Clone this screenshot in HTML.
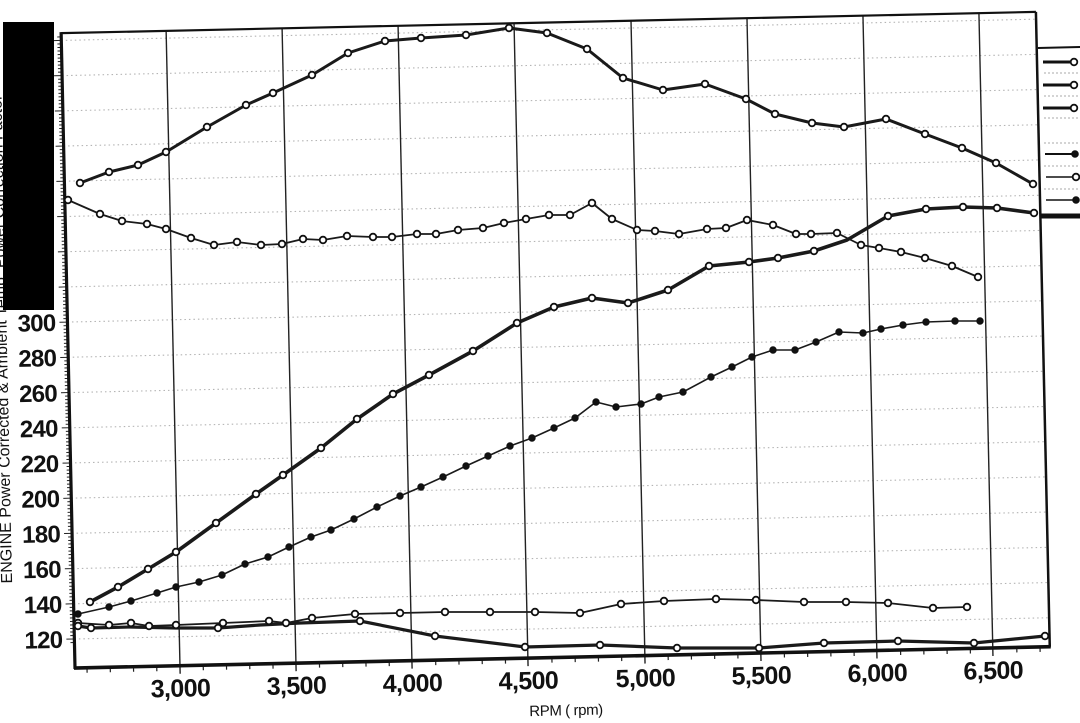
<!DOCTYPE html>
<html>
<head>
<meta charset="utf-8">
<style>
html,body{margin:0;padding:0;background:#fff;}
svg{display:block;}
.tk{font-family:"Liberation Sans",Arial,sans-serif;font-weight:bold;fill:#111;}
</style>
</head>
<body>
<svg width="1080" height="723" viewBox="0 0 1080 723" xmlns="http://www.w3.org/2000/svg">
<rect x="0" y="0" width="1080" height="723" fill="#fff"/>

<g transform="rotate(-1.25 75 668)">
  <!-- horizontal dotted grid -->
  <g stroke="#b4b4b4" stroke-width="1.1" stroke-dasharray="1.5,3">
    <line x1="75" y1="639" x2="1050" y2="639"/>
    <line x1="75" y1="603.8" x2="1050" y2="603.8"/>
    <line x1="75" y1="568.6" x2="1050" y2="568.6"/>
    <line x1="75" y1="533.3" x2="1050" y2="533.3"/>
    <line x1="75" y1="498.1" x2="1050" y2="498.1"/>
    <line x1="75" y1="462.9" x2="1050" y2="462.9"/>
    <line x1="75" y1="427.7" x2="1050" y2="427.7"/>
    <line x1="75" y1="392.5" x2="1050" y2="392.5"/>
    <line x1="75" y1="357.2" x2="1050" y2="357.2"/>
    <line x1="75" y1="322" x2="1050" y2="322"/>
    <line x1="75" y1="286.8" x2="1050" y2="286.8"/>
    <line x1="75" y1="251.6" x2="1050" y2="251.6"/>
    <line x1="75" y1="216.4" x2="1050" y2="216.4"/>
    <line x1="75" y1="181.1" x2="1050" y2="181.1"/>
    <line x1="75" y1="145.9" x2="1050" y2="145.9"/>
    <line x1="75" y1="110.7" x2="1050" y2="110.7"/>
    <line x1="75" y1="75.5" x2="1050" y2="75.5"/>
    <line x1="75" y1="40.3" x2="1050" y2="40.3"/>
  </g>
  <!-- vertical grid -->
  <g stroke="#222" stroke-width="1.4">
    <line x1="180" y1="33" x2="180" y2="676"/>
    <line x1="296" y1="33" x2="296" y2="676"/>
    <line x1="412" y1="33" x2="412" y2="676"/>
    <line x1="528" y1="33" x2="528" y2="676"/>
    <line x1="645" y1="33" x2="645" y2="676"/>
    <line x1="761" y1="33" x2="761" y2="676"/>
    <line x1="877" y1="33" x2="877" y2="676"/>
    <line x1="993" y1="33" x2="993" y2="676"/>
  </g>
  <g stroke="#222" stroke-width="1.2" id="xt"></g>
  <g stroke="#222" stroke-width="1" id="yt"></g>

  <!-- frame -->
  <g stroke="#111" fill="none">
    <line x1="75" y1="33" x2="1050" y2="33" stroke-width="2.2"/>
    <line x1="1050" y1="33" x2="1050" y2="668" stroke-width="2.5"/>
    <line x1="75" y1="32" x2="75" y2="669" stroke-width="3.2"/>
    <line x1="74" y1="668" x2="1051" y2="668" stroke-width="3.6"/>
  </g>

  <!-- y labels -->
  <g class="tk" font-size="24" text-anchor="end" letter-spacing="-0.7">
    <text x="63" y="647.5">120</text>
    <text x="63" y="612.3">140</text>
    <text x="63" y="577.1">160</text>
    <text x="63" y="541.8">180</text>
    <text x="63" y="506.6">200</text>
    <text x="63" y="471.4">220</text>
    <text x="63" y="436.2">240</text>
    <text x="63" y="401">260</text>
    <text x="63" y="365.7">280</text>
    <text x="63" y="330.5">300</text>
  </g>
  <!-- x labels -->
  <g class="tk" font-size="25" text-anchor="middle" letter-spacing="-0.6">
    <text x="180" y="699">3,000</text>
    <text x="296" y="699">3,500</text>
    <text x="412" y="699">4,000</text>
    <text x="528" y="699">4,500</text>
    <text x="645" y="699">5,000</text>
    <text x="761" y="699">5,500</text>
    <text x="877" y="699">6,000</text>
    <text x="993" y="699">6,500</text>
  </g>
  <text x="565" y="726" font-family="Liberation Sans, Arial, sans-serif" font-size="15" letter-spacing="-0.4" text-anchor="middle" fill="#111">RPM ( rpm)</text>
  <text transform="translate(14 582) rotate(-90)" font-family="Liberation Sans, Arial, sans-serif" font-size="16" fill="#111">ENGINE Power Corrected &amp; Ambient Temp. Power Correction Factor</text>
</g>

<!-- data series (image coords) -->
<g fill="none" stroke="#1a1a1a" stroke-linejoin="round" stroke-linecap="round">
  <polyline id="pA" stroke-width="3" points="80,183 109,172 138,165 166,152 207,127 246,105 273,93 312,75 348,53 385,41 421,38 466,35 509,28 547,33 587,49 623,78 663,90 705,84 746,99 775,114 812,123 844,127 886,119 925,134 962,148 996,163 1033,184"/>
  <polyline id="pB" stroke-width="1.8" points="68,200 100,214 122,221 147,224 166,229 191,238 214,245 237,242 261,245 282,244 303,239 323,240 347,236 373,237 392,237 417,234 436,234 458,230 483,228 504,223 526,219 549,215 570,215 592,203 612,219 637,230 655,231 679,234 707,229 726,228 747,220 773,225 796,234 811,234 837,233 861,245 879,248 901,252 925,258 952,266 978,277"/>
  <polyline id="pC" stroke-width="3.6" points="90,602 118,587 148,569 176,552 216,523 256,494 283,475 321,448 357,419 393,394 429,375 473,351 517,323 554,307 592,298 628,303 668,290 709,266 749,262 778,258 814,251 847,240 888,216 926,209 963,207 997,208 1034,213"/>
  <polyline id="pD" stroke-width="1.6" points="78,614 109,607 131,601 157,593 176,587 199,582 222,575 245,564 268,557 289,547 311,537 331,530 354,519 377,507 400,496 421,487 443,477 466,466 488,456 510,446 532,438 554,428 575,418 596,402 616,407 641,404 659,397 683,392 711,377 732,367 752,357 773,350 795,350 816,342 839,332 863,333 881,329 903,325 926,322 955,321 980,321"/>
  <polyline id="pE" stroke-width="1.8" points="78,623 109,625 131,623 149,626 176,625 223,623 269,621 286,623 312,618 355,614 400,613 445,612 490,612 535,612 580,613 621,604 664,601 716,599 756,600 804,602 846,602 888,603 933,608 967,607"/>
  <polyline id="pF" stroke-width="3.2" points="78,626 91,628 130,627 176,628 218,628 260,625 300,623 360,621 435,636 525,647 600,645 677,648 759,648 824,643 898,641 974,643 1045,636"/>
</g>
<g id="marks"></g>

<!-- legend -->
<g stroke="#111" fill="none">
  <line x1="1038" y1="48" x2="1080" y2="47" stroke-width="2"/>
  <line x1="1043" y1="62" x2="1072" y2="62" stroke-width="3"/>
  <line x1="1043" y1="85" x2="1072" y2="85" stroke-width="3"/>
  <line x1="1043" y1="108" x2="1072" y2="108" stroke-width="3"/>
  <line x1="1045" y1="154" x2="1073" y2="154" stroke-width="2"/>
  <line x1="1046" y1="177" x2="1074" y2="177" stroke-width="1.5"/>
  <line x1="1046" y1="200" x2="1075" y2="200" stroke-width="1.5"/>
  <line x1="1040" y1="216" x2="1080" y2="216" stroke-width="5"/>
  <g stroke="#aaa" stroke-width="1" stroke-dasharray="2,2">
    <line x1="1044" y1="73" x2="1078" y2="73"/>
    <line x1="1044" y1="96" x2="1078" y2="96"/>
    <line x1="1044" y1="118" x2="1078" y2="118"/>
    <line x1="1044" y1="143" x2="1078" y2="143"/>
    <line x1="1044" y1="166" x2="1078" y2="166"/>
    <line x1="1044" y1="189" x2="1078" y2="189"/>
  </g>
  <circle cx="1074" cy="62" r="3.3" fill="#fff" stroke-width="1.8"/>
  <circle cx="1074" cy="85" r="3.3" fill="#fff" stroke-width="1.8"/>
  <circle cx="1074" cy="108" r="3.3" fill="#fff" stroke-width="1.8"/>
  <circle cx="1075" cy="154" r="3.3" fill="#111" stroke-width="1"/>
  <circle cx="1076" cy="177" r="3.3" fill="#fff" stroke-width="1.8"/>
  <circle cx="1076" cy="200" r="3.3" fill="#111" stroke-width="1"/>
</g>

<rect x="3" y="22" width="51" height="288" fill="#000"/>

<script>
(function(){
  var NS="http://www.w3.org/2000/svg";
  function el(tag,attrs,parent){var e=document.createElementNS(NS,tag);for(var k in attrs)e.setAttribute(k,attrs[k]);parent.appendChild(e);return e;}
  var xt=document.getElementById("xt");
  for(var r=2600;r<=6700;r+=100){
    if(r%500===0)continue;
    var x=180+(r-3000)*0.2325;
    el("line",{x1:x,y1:668,x2:x,y2:673},xt);
  }
  var yt=document.getElementById("yt");
  for(var v=118;v<=462;v+=2){
    var y=639-(v-120)*1.761;
    var len=(v%20===0)?8:4;
    el("line",{x1:75-len,y1:y,x2:75,y2:y},yt);
  }
  var marks=document.getElementById("marks");
  function pts(id){return document.getElementById(id).getAttribute("points").trim().split(/\s+/).map(function(p){return p.split(",").map(Number);});}
  function addOpen(id,skip){pts(id).forEach(function(p,i){if(skip&&skip.indexOf(i)>=0)return;el("circle",{cx:p[0],cy:p[1],r:3.3,fill:"#fff",stroke:"#111","stroke-width":1.8},marks);});}
  function addFilled(id){pts(id).forEach(function(p){el("circle",{cx:p[0],cy:p[1],r:3.2,fill:"#111",stroke:"#111","stroke-width":1},marks);});}
  addOpen("pA");
  addOpen("pB");
  addOpen("pC",[21]);
  addFilled("pD");
  addOpen("pE");
  addOpen("pF",[2,3,5,6]);
})();
</script>
</svg>
</body>
</html>
